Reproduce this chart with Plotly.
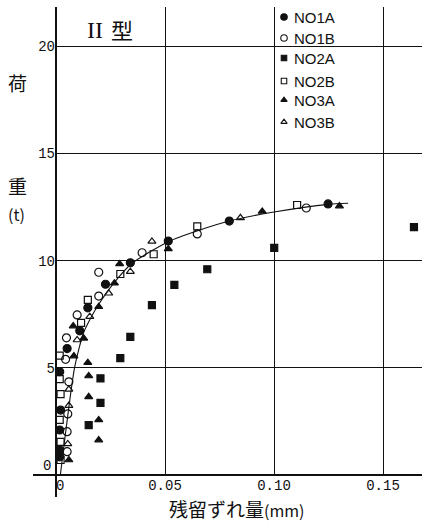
import plotly.graph_objects as go

# ---- measured data: residual slip (mm) vs load (t) ----
no1a_x = [0.0017, 0.0017, 0.0017, 0.0021, 0.0017, 0.0051, 0.0109, 0.0146, 0.0227, 0.0341, 0.0515, 0.0795, 0.1248]
no1a_y = [0.85, 1.17, 2.1, 3.03, 4.82, 5.9, 6.73, 7.8, 8.9, 9.9, 10.92, 11.85, 12.65]

no1b_x = [0.0051, 0.0051, 0.0054, 0.0059, 0.0044, 0.0048, 0.0097, 0.0196, 0.0196, 0.0395, 0.0648, 0.1148]
no1b_y = [1.09, 2.02, 2.85, 4.35, 5.4, 6.4, 7.47, 8.35, 9.46, 10.37, 11.25, 12.46]

no2a_x = [0.015, 0.0204, 0.0204, 0.0295, 0.0341, 0.044, 0.0543, 0.0694, 0.1001, 0.1642]
no2a_y = [2.33, 3.37, 4.51, 5.45, 6.45, 7.93, 8.87, 9.6, 10.6, 11.57]

no2b_x = [0.0021, 0.0021, 0.0017, 0.0021, 0.0017, 0.0017, 0.0115, 0.0146, 0.0295, 0.0448, 0.0648, 0.1106]
no2b_y = [0.7, 1.55, 2.57, 3.77, 4.47, 5.57, 7.1, 8.17, 9.38, 10.3, 11.6, 12.6]

no3a_x = [0.0059, 0.0196, 0.0196, 0.015, 0.015, 0.0146, 0.0082, 0.0127, 0.0079, 0.0196, 0.0268, 0.0292, 0.0515, 0.0946, 0.13]
no3a_y = [0.7, 1.63, 2.57, 3.65, 4.62, 5.24, 5.55, 6.38, 6.95, 7.85, 8.95, 9.85, 10.55, 12.3, 12.55]

no3b_x = [0.0054, 0.0059, 0.0059, 0.0097, 0.0155, 0.0242, 0.0341, 0.044, 0.0846]
no3b_y = [1.45, 3.24, 4.0, 6.3, 7.39, 8.48, 9.49, 10.9, 12.0]

# fitted mean curve
fit_x = [0.002, 0.0085, 0.0125, 0.0158, 0.0189, 0.0265, 0.0349, 0.0517, 0.065, 0.0795, 0.10, 0.125, 0.134]
fit_y = [0.0, 5.0, 6.6, 7.3, 7.85, 8.95, 9.88, 10.9, 11.4, 11.85, 12.27, 12.63, 12.68]

x_ticks = [0, 0.05, 0.10, 0.15]
x_ticktext = ["\u00a00", "0.05", "0.10", "0.15"]
y_ticks = [5, 10, 15, 20]
y_ticktext = ["5", "10", "15", "20"]
y_origin_label = "0"

series_names = ["NO1A", "NO1B", "NO2A", "NO2B", "NO3A", "NO3B"]
series_x = [no1a_x, no1b_x, no2a_x, no2b_x, no3a_x, no3b_x]
series_y = [no1a_y, no1b_y, no2a_y, no2b_y, no3a_y, no3b_y]
series_symbols = ["circle", "circle-open", "square", "square-open", "triangle-up", "triangle-up-open"]
symbol_size = {"circle": 8, "circle-open": 8, "square": 7, "square-open": 7,
               "triangle-up": 7, "triangle-up-open": 7}

W, H = 422, 523
ML, MR, MT, MB = 56, 0, 7, 48
PW, PH = W - ML - MR, H - MT - MB

CJK = "Noto Sans CJK JP"
MONO = "Liberation Mono"
BLACK = "#111111"


def px_to_paper(px, py):
    return (px - ML) / PW, (H - MB - py) / PH


fig = go.Figure()

fig.add_trace(go.Scatter(
    x=fit_x, y=fit_y, mode="lines",
    line=dict(color=BLACK, width=1.1, shape="spline", smoothing=0.6),
    showlegend=False, hoverinfo="skip"))

for name, xs, ys, sym in zip(series_names, series_x, series_y, series_symbols):
    fig.add_trace(go.Scatter(
        x=xs, y=ys, mode="markers", name=name,
        marker=dict(symbol=sym, size=symbol_size[sym], color=BLACK,
                    line=dict(color=BLACK, width=1.2)),
        cliponaxis=False, showlegend=False))

# key: symbols on a pixel-scaled overlay axis, names as annotations
key_px_x = 284
key_px_y = [17, 38, 58, 81, 100, 122]
for name, sym, ky in zip(series_names, series_symbols, key_px_y):
    fig.add_trace(go.Scatter(
        x=[key_px_x], y=[ky], xaxis="x2", yaxis="y2", mode="markers",
        marker=dict(symbol=sym, size=symbol_size[sym] - 1.5, color=BLACK,
                    line=dict(color=BLACK, width=1.1)),
        cliponaxis=False, showlegend=False, hoverinfo="skip"))
    fig.add_annotation(x=key_px_x + 8, y=ky, xref="x2", yref="y2", text=name,
                       showarrow=False, xanchor="left", yanchor="middle",
                       font=dict(family="Liberation Sans", size=15, color=BLACK))

fig.update_layout(
    width=W, height=H,
    margin=dict(l=ML, r=MR, t=MT, b=MB, pad=0),
    paper_bgcolor="white", plot_bgcolor="white",
    showlegend=False,
    xaxis=dict(range=[0, PW / 2180.0], tickvals=x_ticks, ticktext=x_ticktext,
               showgrid=True, gridcolor=BLACK, gridwidth=1.2,
               zeroline=False, showline=False, ticks="",
               tickfont=dict(family=MONO, size=14, color=BLACK)),
    yaxis=dict(range=[0, PH / 21.43], tickvals=y_ticks, ticktext=y_ticktext,
               showgrid=True, gridcolor=BLACK, gridwidth=1.2,
               zeroline=False, showline=False, ticks="",
               tickfont=dict(family=MONO, size=14, color=BLACK)),
    xaxis2=dict(range=[ML, W], overlaying="x", anchor="y2", visible=False),
    yaxis2=dict(range=[H - MB, MT], overlaying="y", anchor="x2", visible=False),
)

# axis lines crossing at the origin
x0p, _ = px_to_paper(33, 0)
_, y0p = px_to_paper(0, 497)
fig.add_shape(type="line", xref="paper", yref="paper", x0=x0p, x1=1, y0=0, y1=0,
              line=dict(color=BLACK, width=2))
fig.add_shape(type="line", xref="paper", yref="paper", x0=0, x1=0, y0=y0p, y1=1,
              line=dict(color=BLACK, width=2))


def label(text, px, py, size, family=CJK, xanchor="center"):
    ax, ay = px_to_paper(px, py)
    fig.add_annotation(x=ax, y=ay, xref="paper", yref="paper", text=text,
                       showarrow=False, xanchor=xanchor, yanchor="middle",
                       font=dict(family=family, size=size, color=BLACK))


# origin label on the y side sits just above the horizontal axis
label(y_origin_label, 53, 466, 14, family=MONO, xanchor="right")

label("荷", 17, 83, 19)
label("重", 17, 185, 19)
label("(t)", 16, 214, 16)
label("II", 95, 30, 24, family="Liberation Serif")
label("型", 122, 29, 22)
label("残留ずれ量<span style='font-size:16px'>(mm)</span>", 236, 508, 19)

fig.write_html("out.html")
